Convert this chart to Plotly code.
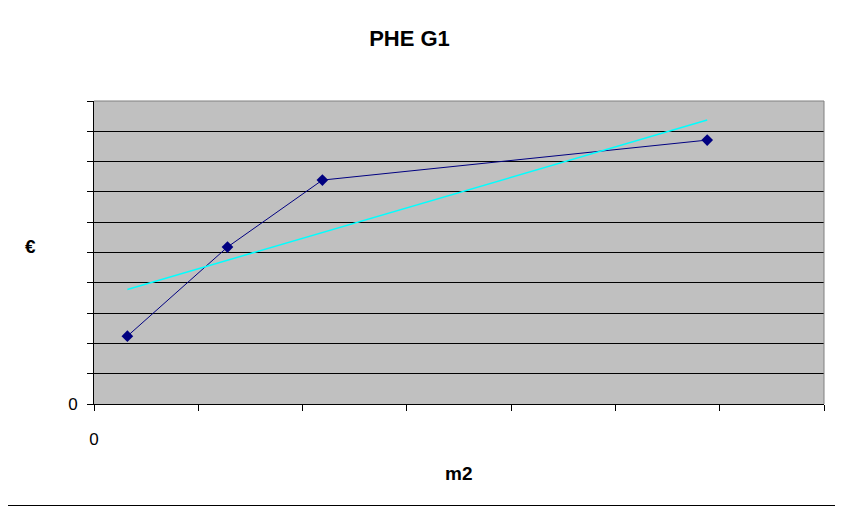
import plotly.graph_objs as go

# data
m2 = [0.32, 1.28, 2.19, 5.88]
euro = [2.24, 5.18, 7.39, 8.71]
trend_x = [0.32, 5.88]
trend_y = [3.78, 9.37]

x_ticks = [0, 1, 2, 3, 4, 5, 6, 7]
y_ticks = [0, 1, 2, 3, 4, 5, 6, 7, 8, 9, 10]

# the page puts the figure 8px in from the top left corner
OFF = 8
W, H = 843 - OFF, 506 - OFF
L, R, T, B = 94 - OFF, 19, 101 - OFF, 102
pw, ph = W - L - R, H - T - B

font = dict(family="Liberation Sans, Arial", size=16, color="black")

data = [
    go.Scatter(x=m2, y=euro, mode="lines+markers",
               line=dict(color="#000080", width=1),
               marker=dict(symbol="diamond", size=9, color="#000080")),
    go.Scatter(x=trend_x, y=trend_y, mode="lines",
               line=dict(color="#00FFFF", width=1.5)),
]

layout = go.Layout(
    width=W, height=H,
    margin=dict(l=L, r=R, t=T, b=B),
    paper_bgcolor="white",
    plot_bgcolor="#C0C0C0",
    showlegend=False,
    font=font,
    title=dict(text="<b>PHE G1</b>", x=(409.5 - OFF) / W, xanchor="center",
               y=1 - (38 - OFF) / H, yanchor="middle",
               font=dict(size=22)),
    xaxis=dict(range=[0, 7], tickvals=x_ticks,
               ticktext=["0"] + [""] * (len(x_ticks) - 1),
               tickfont=dict(size=17),
               ticks="outside", ticklen=6, tickcolor="black",
               ticklabelstandoff=14,
               showgrid=False, zeroline=False, showline=True,
               linecolor="black", linewidth=1),
    yaxis=dict(range=[0, 10], tickvals=y_ticks,
               ticktext=["0"] + [""] * (len(y_ticks) - 1),
               tickfont=dict(size=17),
               ticks="outside", ticklen=6, tickcolor="black",
               ticklabelstandoff=6,
               showgrid=True, gridcolor="black", gridwidth=1,
               zeroline=False, showline=True, linecolor="black", linewidth=1),
    annotations=[
        dict(text="<b>m2</b>", xref="paper", yref="paper",
             x=(458 - 94) / pw, y=(404 - 473) / ph,
             xanchor="center", yanchor="middle", showarrow=False,
             font=dict(size=19)),
        dict(text="<b>€</b>", xref="paper", yref="paper",
             x=(31 - 94) / pw, y=(404 - 246.5) / ph,
             xanchor="center", yanchor="middle", showarrow=False,
             font=dict(size=19)),
    ],
    shapes=[
        dict(type="line", xref="paper", yref="paper",
             x0=1, x1=1, y0=0, y1=1,
             line=dict(color="#808080", width=1)),
        dict(type="line", xref="paper", yref="paper",
             x0=0, x1=1, y0=1, y1=1,
             line=dict(color="#808080", width=1)),
        # outer frame, right and bottom edges (left/top sit off the figure)
        dict(type="line", xref="paper", yref="paper",
             x0=1 + (R - 0.5) / pw, x1=1 + (R - 0.5) / pw,
             y0=-(B - 0.5) / ph, y1=1 + (T + 1) / ph,
             line=dict(color="black", width=1)),
        dict(type="line", xref="paper", yref="paper",
             x0=-(L + 1) / pw, x1=1 + (R - 0.5) / pw,
             y0=-(B - 0.5) / ph, y1=-(B - 0.5) / ph,
             line=dict(color="black", width=1)),
    ],
)

fig = go.Figure(data=data, layout=layout)
fig.write_html("out.html")
